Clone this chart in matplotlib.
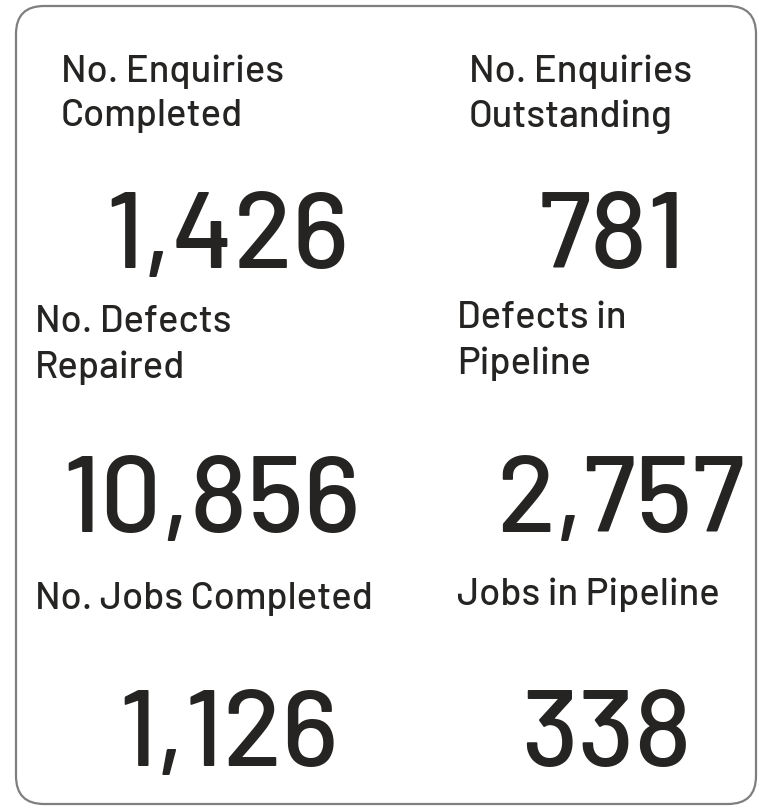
import matplotlib
matplotlib.use("Agg")
import matplotlib.pyplot as plt
from matplotlib.patches import FancyBboxPatch
from matplotlib import font_manager

# card data
labels = ["No. Enquiries\nCompleted", "No. Enquiries\nOutstanding",
          "No. Defects\nRepaired", "Defects in\nPipeline",
          "No. Jobs Completed", "Jobs in Pipeline"]
values = [1426, 781, 10856, 2757, 1126, 338]

# layout (pixels): label left/top, value centre x / baseline
label_x = [61, 469, 35, 457, 35, 457]
label_y = [54, 54, 305, 301, 582, 578]
value_x = [227, 612, 212, 620, 229, 606]
value_y = [268, 268, 532, 532, 766, 766]

names = {f.name for f in font_manager.fontManager.ttflist}
fam = "DejaVu Sans"
for cand in ["Barlow", "Roboto Condensed", "Liberation Sans Narrow"]:
    if cand in names:
        fam = cand
        break

col = "#252423"
fig = plt.figure(figsize=(7.59, 8.09), dpi=100)
ax = fig.add_axes([0, 0, 1, 1])
ax.set_xlim(0, 759)
ax.set_ylim(809, 0)
ax.axis("off")

box = FancyBboxPatch((16, 6), 740, 798, boxstyle="round,pad=0,rounding_size=28",
                     fc="white", ec="#7f7f7f", lw=1.6)
ax.add_patch(box)

for i in range(len(labels)):
    ax.text(label_x[i], label_y[i], labels[i], fontsize=27.5, family=fam, color=col,
            weight="medium", ha="left", va="top", linespacing=1.4)
    ax.text(value_x[i], value_y[i], f"{values[i]:,}", fontsize=78, family=fam,
            color=col, weight="medium", ha="center", va="baseline")

fig.savefig("out.png", dpi=100)
